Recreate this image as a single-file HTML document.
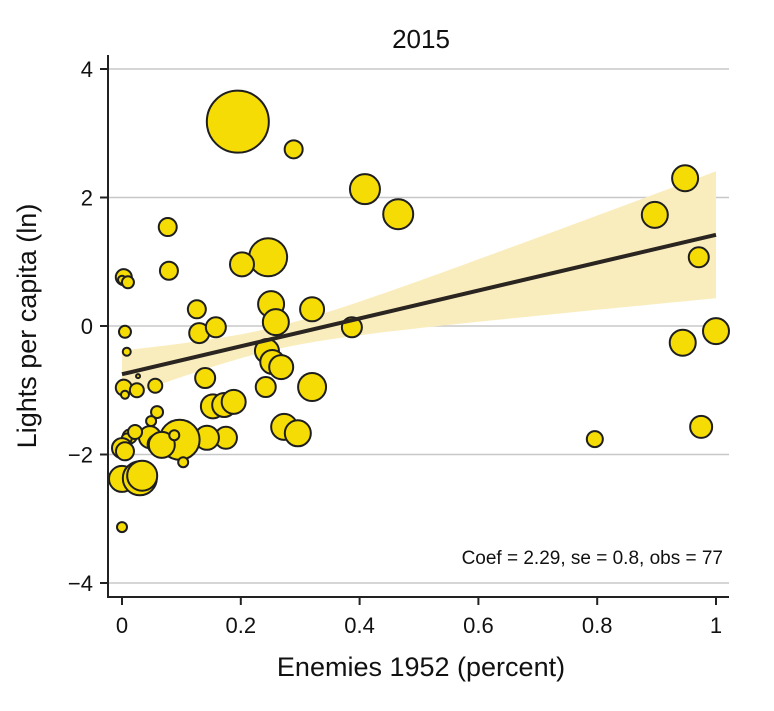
<!DOCTYPE html>
<html><head><meta charset="utf-8"><style>
body{margin:0;background:#fff;}
svg{font-family:"Liberation Sans",Arial,sans-serif;}
</style></head><body>
<svg id="chart" width="774" height="706">
<text x="421" y="48" font-size="26" text-anchor="middle" fill="#111">2015</text>
<g id="grid"></g><g id="band"></g><g id="pts"></g><g id="axes"></g>
<text x="723" y="564" font-size="19" text-anchor="end" fill="#111">Coef = 2.29, se = 0.8, obs = 77</text>
<text x="421" y="676" font-size="27" text-anchor="middle" fill="#111">Enemies 1952 (percent)</text>
<text transform="translate(36,326) rotate(-90)" font-size="27" text-anchor="middle" fill="#111">Lights per capita (ln)</text>
</svg>
<script>
const xTicks=[0,0.2,0.4,0.6,0.8,1];
const xTickLabels=["0","0.2","0.4","0.6","0.8","1"];
const yTicks=[4,2,0,-2,-4];
const yTickLabels=["4","2","0","\u22122","\u22124"];
const xs=[.195,.289,.409,.465,.246,.202,.077,.079,.003,.0,.010,.251,.259,.32,.126,.130,.158,.387,.005,.008,.244,.253,.268,.14,.242,.32,.027,.003,.005,.025,.056,.153,.172,.188,.059,.049,.273,.296,.013,.008,.047,.096,.175,.143,.097,.0,.06,.067,.088,.103,.0,.03,.034,.0,.005,.022,.897,.948,.971,1.0,.944,.975,.796];
const ys=[3.18,2.75,2.13,1.74,1.07,.96,1.54,.86,.76,.72,.68,.34,.06,.26,.26,-.11,-.02,-.02,-.09,-.40,-.39,-.56,-.64,-.81,-.95,-.95,-.78,-.96,-1.07,-1.0,-.93,-1.25,-1.23,-1.18,-1.34,-1.48,-1.57,-1.67,-1.72,-1.75,-1.73,-1.73,-1.74,-1.74,-1.77,-1.9,-1.84,-1.85,-1.7,-2.12,-2.38,-2.37,-2.33,-3.13,-1.95,-1.65,1.73,2.30,1.07,-.08,-.26,-1.57,-1.76];
const sizes=[31,9,15,15,19,12,9,9,8,4,6,13,13,12,9,10,10,10,6,4,12,12,12,10,10,14,2,8,4,7,7,12,12,12,6,5,13,13,7,5,11,11,11,12,20,10,10,13,5,5,13,17,15,5,9,7,13,13,10,13,13,11,8];
const fitIntercept=-0.75, fitSlope=2.17;
const ciMean=0.25, ciA=0.175, ciB=1.68;
const X=v=>122+v*594, Y=v=>326-v*64.25;
const NS="http://www.w3.org/2000/svg";
function mk(t,a,p){const e=document.createElementNS(NS,t);for(const k in a)e.setAttribute(k,a[k]);p.appendChild(e);return e;}
const grid=document.getElementById('grid'),axes=document.getElementById('axes'),band=document.getElementById('band'),pts=document.getElementById('pts');
yTicks.forEach((v,i)=>{
 const g=mk('line',{x1:108,x2:729,y1:Y(v),y2:Y(v),stroke:'#c8c8c8','stroke-width':1.5},grid);
 
 
 const t=mk('line',{x1:100,x2:108,y1:Y(v),y2:Y(v),stroke:'#222','stroke-width':2},axes);
 
 
 const l=mk('text',{x:93,y:Y(v)+8,'font-size':22,'text-anchor':'end',fill:'#111'},axes);l.textContent=yTickLabels[i];
 
 
});
xTicks.forEach((v,i)=>{
 const t=mk('line',{x1:X(v),x2:X(v),y1:597,y2:605,stroke:'#222','stroke-width':2},axes);
 
 
 const l=mk('text',{x:X(v),y:633,'font-size':22,'text-anchor':'middle',fill:'#111'},axes);l.textContent=xTickLabels[i];
 
 
});
const ya=mk('line',{x1:108,x2:108,y1:55,y2:598,stroke:'#222','stroke-width':2},axes);


const xa=mk('line',{x1:107,x2:729,y1:597,y2:597,stroke:'#222','stroke-width':2},axes);


let up=[],dn=[];
for(let i=0;i<=40;i++){const x=i/40,f=fitIntercept+fitSlope*x,h=Math.sqrt(ciA*ciA+ciB*(x-ciMean)*(x-ciMean));
 up.push(X(x)+','+Y(f+h));dn.unshift(X(x)+','+Y(f-h));}
const bp=mk('polygon',{points:up.concat(dn).join(' '),fill:'#faedbd'},band);


xs.forEach((x,i)=>{
 const c=mk('circle',{cx:X(x),cy:Y(ys[i]),r:sizes[i],fill:'#f5dc05',stroke:'#1e1e1e','stroke-width':2},pts);
 
 
});
const fl=mk('line',{x1:X(0),x2:X(1),y1:Y(fitIntercept),y2:Y(fitIntercept+fitSlope),stroke:'#2a2520','stroke-width':4},pts);


</script>
</body></html>
